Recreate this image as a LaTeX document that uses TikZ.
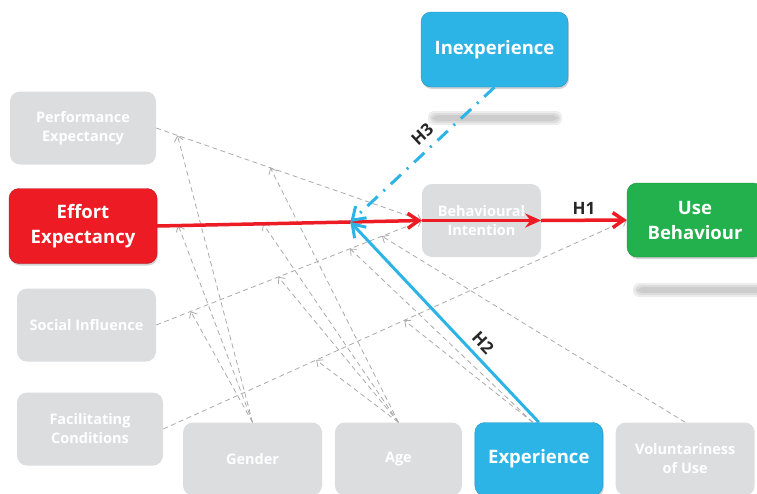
\documentclass[tikz,border=0pt]{standalone}
\usepackage{fontspec}
\setmainfont{Open Sans}
\usetikzlibrary{arrows.meta,positioning,calc,shadows}

\definecolor{boxgray}{RGB}{220,221,223}
\definecolor{effred}{RGB}{237,28,36}
\definecolor{expblue}{RGB}{45,180,231}
\definecolor{usegreen}{RGB}{34,177,76}
\definecolor{dashgray}{RGB}{170,170,172}

\begin{document}
\begin{tikzpicture}[
    x=1pt, y=-1pt,
    box/.style={rounded corners=10pt, minimum height=73pt, align=center,
                text=white, font=\bfseries\fontsize{14.5}{19}\selectfont},
    graybox/.style={box, fill=boxgray},
    keybox/.style={box, font=\bfseries\fontsize{18.5}{25}\selectfont,
                   drop shadow={opacity=0.35, shadow xshift=1pt, shadow yshift=-2pt}},
    redbox/.style={keybox, fill=effred, draw=effred!75!black},
    bluebox/.style={keybox, fill=expblue, draw=expblue!80!black},
    greenbox/.style={keybox, fill=usegreen, draw=usegreen!80!black},
    dasharr/.style={dashgray, dash pattern=on 5pt off 3.5pt, line width=0.8pt,
                    -{Straight Barb[length=5pt,width=9pt]}},
    redarr/.style={effred, line width=3.5pt, -{Straight Barb[length=11pt,width=15pt]}},
    bluearr/.style={expblue, line width=3pt, -{Straight Barb[length=12pt,width=16pt]}},
    hyp/.style={font=\bfseries\fontsize{17}{19}\selectfont, text=black!85},
    node distance=12.5pt
  ]
    \useasboundingbox (0,0) rectangle (757,493);
    \clip (0,0) rectangle (757,493);

    % soft shadows under the top and right boxes
    \foreach \s in {0,2,4} {
      \fill[black, opacity=0.07, rounded corners=6pt] (428+\s,111+\s) rectangle (562-\s,125-\s);
      \fill[black, opacity=0.07, rounded corners=6pt] (633+\s,283+\s) rectangle (775-\s,297-\s);
    }

    % determinants
    \node[graybox, minimum width=146pt] (pe) at (83,128) {Performance\\Expectancy};
    \node[redbox, minimum width=148pt, minimum height=75pt] (ee) at (83,226) {Effort\\Expectancy};
    \node[graybox, minimum width=139pt] (si) at (86.5,325) {Social Influence};
    \node[graybox, minimum width=146pt] (fc) at (90,429) {Facilitating\\Conditions};

    % moderators
    \node[graybox, minimum width=139pt] (gn) at (252.5,459) {Gender};
    \node[graybox, minimum width=127pt, right=of gn] (ag) {Age};
    \node[bluebox, minimum width=128pt, right=of ag] (ex) {Experience};
    \node[graybox, minimum width=139pt, right=of ex] (vu) {Voluntariness\\of Use};
    \node[bluebox, minimum width=147pt, minimum height=75pt] (ix) at (494.5,49.5) {Inexperience};

    % outcomes
    \node[graybox, minimum width=119pt] (bi) at (481.5,220.5) {Behavioural\\Intention};
    \node[greenbox, minimum width=136pt, minimum height=74pt] (ub) at (695,220) {Use\\Behaviour};

    % points on the paths
    \coordinate (pe-g) at ($(pe.east)!0.08!(bi.west)$);
    \coordinate (pe-a) at ($(pe.east)!0.43!(bi.west)$);
    \coordinate (ee-g) at ($(ee.east)!0.08!(bi.west)$);
    \coordinate (ee-a) at ($(ee.east)!0.40!(bi.west)$);
    \coordinate (mod) at ($(ee.east)!0.73!(bi.west)$);
    \coordinate (si-g) at ($(si.east)!0.13!(bi.west)$);
    \coordinate (si-a) at ($(si.east)!0.46!(bi.west)$);
    \coordinate (si-e) at ($(si.east)!0.73!(bi.west)$);
    \coordinate (si-v) at ($(si.east)!0.85!(bi.west)$);
    \coordinate (fc-a) at ($(fc.east)!0.33!(ub.west)$);
    \coordinate (fc-e) at ($(fc.east)!0.52!(ub.west)$);

    \draw[dasharr] (pe.east) -- (bi.west);
    \draw[dasharr] (si.east) -- (bi.west);
    \draw[dasharr] (fc.east) -- (ub.west);
    \foreach \t in {pe-g, ee-g, si-g}
      \draw[dasharr] (gn.north) -- (\t);
    \foreach \t in {pe-a, ee-a, si-a, fc-a}
      \draw[dasharr] (ag.north) -- (\t);
    \foreach \t in {si-e, fc-e}
      \draw[dasharr] ([xshift=-6pt]ex.north) -- (\t);
    \draw[dasharr] (vu.north) -- (si-v);

    % hypotheses
    \draw[redarr] (ee.east) -- (bi.west);
    \draw[effred, line width=3.5pt, -{Stealth[length=16pt,width=14pt]}] (bi.west) -- (bi.east);
    \draw[redarr] (bi.east) -- node[hyp, above=1pt] (h1) {H1} (ub.west);
    \draw[bluearr, dash pattern=on 14pt off 8pt on 2pt off 8pt] (ix.south)
      -- node[hyp, above=4pt, sloped, pos=0.43] (h3) {H3} (mod);
    \draw[bluearr] (ex.north) -- node[hyp, above=3pt, sloped, pos=0.35] (h2) {H2} (mod);
  \end{tikzpicture}
\end{document}
